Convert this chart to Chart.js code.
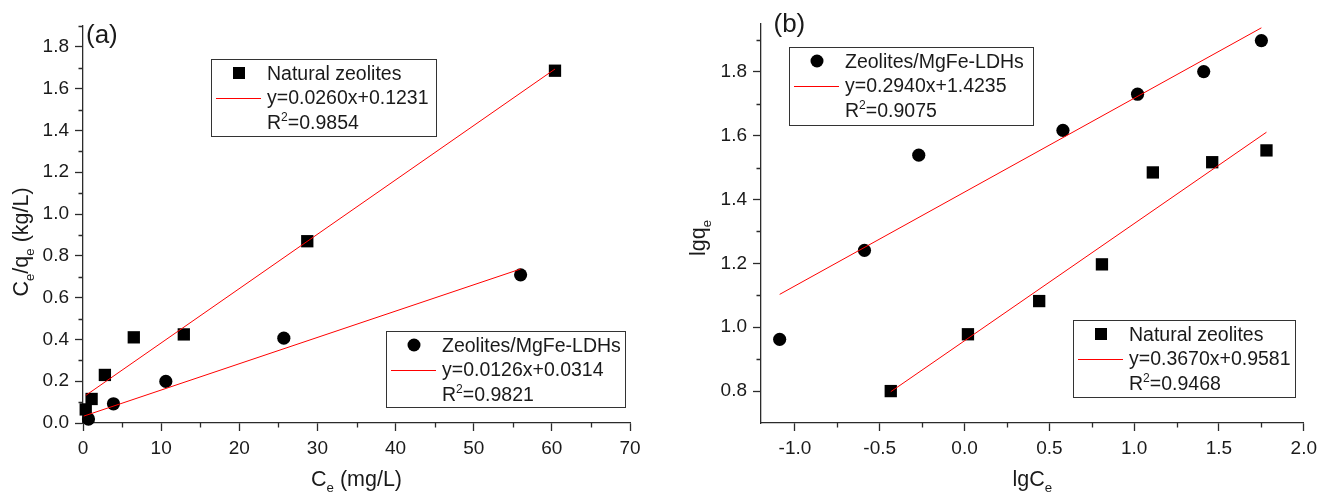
<!DOCTYPE html>
<html>
<head>
<meta charset="utf-8">
<script src="https://cdn.jsdelivr.net/npm/chart.js@4.4.1/dist/chart.umd.min.js"></script>
<style>
  html, body { margin: 0; padding: 0; background: #fff; }
  .panel { position: absolute; top: 0; height: 494px; }
  #wrapA { left: 0; width: 661px; }
  #wrapB { left: 661px; width: 662px; }
</style>
</head>
<body>
<div class="panel" id="wrapA"><canvas id="chartA"></canvas></div>
<div class="panel" id="wrapB"><canvas id="chartB"></canvas></div>
<script>
/* (a) Langmuir-type plot: Ce/qe vs Ce */
const A_X_TICKS = [0, 10, 20, 30, 40, 50, 60, 70];
const A_X_MINOR = [5, 15, 25, 35, 45, 55, 65];
const A_Y_TICKS = [0, 0.2, 0.4, 0.6, 0.8, 1.0, 1.2, 1.4, 1.6, 1.8];
const A_Y_MINOR = [0.1, 0.3, 0.5, 0.7, 0.9, 1.1, 1.3, 1.5, 1.7, 1.9];

const A_NAT_X = [0.35, 1.1, 2.8, 6.5, 12.9, 28.7, 60.4];
const A_NAT_Y = [0.065, 0.115, 0.23, 0.41, 0.424, 0.87, 1.686];
const A_LDH_X = [0.7, 3.9, 10.6, 25.7, 56.0];
const A_LDH_Y = [0.019, 0.092, 0.199, 0.406, 0.709];
const A_NAT_FIT_X = [0.35, 60.4];
const A_NAT_FIT_Y = [0.132, 1.694];
const A_LDH_FIT_X = [0.1, 56.0];
const A_LDH_FIT_Y = [0.033, 0.737];

/* (b) Freundlich-type plot: lgqe vs lgCe */
const B_X_TICKS = [-1.0, -0.5, 0.0, 0.5, 1.0, 1.5, 2.0];
const B_X_MINOR = [-0.75, -0.25, 0.25, 0.75, 1.25, 1.75];
const B_Y_TICKS = [0.8, 1.0, 1.2, 1.4, 1.6, 1.8];
const B_Y_MINOR = [0.9, 1.1, 1.3, 1.5, 1.7, 1.9];

const B_LDH_X = [-1.09, -0.59, -0.27, 0.58, 1.02, 1.41, 1.75];
const B_LDH_Y = [0.962, 1.241, 1.539, 1.617, 1.73, 1.801, 1.898];
const B_NAT_X = [-0.435, 0.02, 0.44, 0.81, 1.11, 1.46, 1.78];
const B_NAT_Y = [0.80, 0.978, 1.082, 1.197, 1.485, 1.517, 1.554];
const B_LDH_FIT_X = [-1.09, 1.75];
const B_LDH_FIT_Y = [1.103, 1.938];
const B_NAT_FIT_X = [-0.435, 1.78];
const B_NAT_FIT_Y = [0.798, 1.611];

const NAME_NAT = 'Natural zeolites';
const NAME_LDH = 'Zeolites/MgFe-LDHs';
const EQ_A_NAT = 'y=0.0260x+0.1231', R2_A_NAT = '=0.9854';
const EQ_A_LDH = 'y=0.0126x+0.0314', R2_A_LDH = '=0.9821';
const EQ_B_LDH = 'y=0.2940x+1.4235', R2_B_LDH = '=0.9075';
const EQ_B_NAT = 'y=0.3670x+0.9581', R2_B_NAT = '=0.9468';

const FONT = '"Liberation Sans", Arial, Helvetica, sans-serif';
const INK = '#000000';
const AXIS = '#2b2b2b';
const TEXT = '#1a1a1a';
const RED = '#ff0000';

function pts(xs, ys) {
  return xs.map((x, i) => ({ x, y: ys[i] }));
}

function markerSet(xs, ys, style) {
  return {
    data: pts(xs, ys),
    pointStyle: style,
    pointRadius: style === 'rect' ? 8.7 : 6.6,
    pointHoverRadius: style === 'rect' ? 8.7 : 6.6,
    backgroundColor: INK,
    borderColor: INK,
    borderWidth: 0,
    clip: false,
    order: 1,
  };
}

function fitSet(xs, ys) {
  return {
    data: pts(xs, ys),
    showLine: true,
    borderColor: RED,
    borderWidth: 1,
    pointRadius: 0,
    pointHoverRadius: 0,
    tension: 0,
    fill: false,
    clip: false,
    order: 0,
  };
}

function axis(min, max, ticks, digits, fit) {
  return {
    type: 'linear',
    min, max,
    afterBuildTicks: s => { s.ticks = ticks.map(v => ({ value: v })); },
    afterFit: fit,
    grid: { drawOnChartArea: false, drawTicks: true, tickLength: 8, tickWidth: 1.3, tickColor: AXIS },
    border: { display: true, color: AXIS, width: 1.3 },
    ticks: {
      color: TEXT,
      font: { family: FONT, size: 19 },
      padding: 6,
      maxRotation: 0,
      autoSkip: false,
      callback: v => Number(v).toFixed(digits),
    },
  };
}

function fontFor(p, size) {
  const s = (p.sub || p.sup) ? size * 0.62 : size;
  return s.toFixed(1) + 'px ' + FONT;
}

function richWidth(ctx, parts, size) {
  let w = 0;
  for (const p of parts) { ctx.font = fontFor(p, size); w += ctx.measureText(p.t).width; }
  return w;
}

function drawRich(ctx, parts, x, y, size, center) {
  let cx = center ? x - richWidth(ctx, parts, size) / 2 : x;
  ctx.textAlign = 'left';
  ctx.textBaseline = 'alphabetic';
  for (const p of parts) {
    ctx.font = fontFor(p, size);
    const dy = p.sub ? size * 0.3 : p.sup ? -size * 0.4 : 0;
    ctx.fillText(p.t, cx, y + dy);
    cx += ctx.measureText(p.t).width;
  }
}

function drawMarker(ctx, style, x, y) {
  ctx.fillStyle = INK;
  ctx.beginPath();
  if (style === 'rect') ctx.rect(x - 6, y - 6, 12, 12);
  else ctx.arc(x, y, 6.5, 0, Math.PI * 2);
  ctx.fill();
}

// minor ticks, axis titles, panel letter and the boxed legends
const decor = {
  id: 'decor',
  afterDraw(chart, args, o) {
    const ctx = chart.ctx;
    const a = chart.chartArea;
    const xs = chart.scales.x, ys = chart.scales.y;
    ctx.save();
    ctx.strokeStyle = AXIS;
    ctx.lineWidth = 1.3;
    ctx.beginPath();
    for (const v of o.minorX) {
      const px = Math.round(xs.getPixelForValue(v)) + 0.5;
      ctx.moveTo(px, a.bottom); ctx.lineTo(px, a.bottom + 4.5);
    }
    for (const v of o.minorY) {
      const py = Math.round(ys.getPixelForValue(v)) + 0.5;
      ctx.moveTo(a.left - 4.5, py); ctx.lineTo(a.left, py);
    }
    ctx.stroke();

    ctx.fillStyle = TEXT;
    drawRich(ctx, o.xTitle, (a.left + a.right) / 2, o.xTitleY, 21.5, true);
    ctx.save();
    ctx.translate(o.yTitleX, o.yTitleCY);
    ctx.rotate(-Math.PI / 2);
    drawRich(ctx, o.yTitle, 0, 0, 21.5, true);
    ctx.restore();

    ctx.font = '26px ' + FONT;
    ctx.textAlign = 'left';
    ctx.fillText(o.panel[0], o.panel[1], o.panel[2]);

    for (const lg of o.legends) {
      const [x1, y1, x2, y2] = lg.box;
      ctx.strokeStyle = '#333';
      ctx.lineWidth = 1;
      ctx.strokeRect(x1 + 0.5, y1 + 0.5, x2 - x1, y2 - y1);
      const b1 = y1 + 20.5, b2 = y1 + 45, b3 = y1 + 69.5;
      drawMarker(ctx, lg.marker, x1 + 28, b1 - 6.5);
      ctx.strokeStyle = RED;
      ctx.beginPath();
      ctx.moveTo(x1 + 5, Math.round(b2 - 6.5) + 0.5);
      ctx.lineTo(x1 + 50, Math.round(b2 - 6.5) + 0.5);
      ctx.stroke();
      ctx.fillStyle = TEXT;
      drawRich(ctx, [{ t: lg.name }], x1 + 56, b1, 19.5, false);
      drawRich(ctx, [{ t: lg.eq }], x1 + 56, b2, 19.5, false);
      drawRich(ctx, [{ t: 'R' }, { t: '2', sup: 1 }, { t: lg.r2 }], x1 + 56, b3, 19.5, false);
    }
    ctx.restore();
  },
};

function mountPanel(canvasId, cfg) {
  return new Chart(document.getElementById(canvasId), {
    type: 'scatter',
    data: { datasets: cfg.datasets },
    options: {
      responsive: true,
      maintainAspectRatio: false,
      animation: false,
      events: [],
      layout: { padding: cfg.padding },
      scales: cfg.scales,
      plugins: {
        legend: { display: false },
        tooltip: { enabled: false },
        decor: cfg.decor,
      },
    },
    plugins: [decor],
  });
}

mountPanel('chartA', {
  datasets: [
    fitSet(A_NAT_FIT_X, A_NAT_FIT_Y),
    fitSet(A_LDH_FIT_X, A_LDH_FIT_Y),
    markerSet(A_NAT_X, A_NAT_Y, 'rect'),
    markerSet(A_LDH_X, A_LDH_Y, 'circle'),
  ],
  padding: { top: 26, right: 31, bottom: 0, left: 0 },
  scales: {
    x: axis(0, 70, A_X_TICKS, 0, s => { s.height = 71; }),
    y: axis(0, 1.9, A_Y_TICKS, 1, s => { s.width = 83; }),
  },
  decor: {
    minorX: A_X_MINOR,
    minorY: A_Y_MINOR,
    xTitle: [{ t: 'C' }, { t: 'e', sub: 1 }, { t: ' (mg/L)' }],
    xTitleY: 486,
    yTitle: [{ t: 'C' }, { t: 'e', sub: 1 }, { t: '/q' }, { t: 'e', sub: 1 }, { t: ' (kg/L)' }],
    yTitleX: 28,
    yTitleCY: 242,
    panel: ['(a)', 86, 43],
    legends: [
      { box: [211, 59, 436, 136], marker: 'rect', name: NAME_NAT, eq: EQ_A_NAT, r2: R2_A_NAT },
      { box: [386, 331, 625, 407], marker: 'circle', name: NAME_LDH, eq: EQ_A_LDH, r2: R2_A_LDH },
    ],
  },
});

mountPanel('chartB', {
  datasets: [
    fitSet(B_LDH_FIT_X, B_LDH_FIT_Y),
    fitSet(B_NAT_FIT_X, B_NAT_FIT_Y),
    markerSet(B_LDH_X, B_LDH_Y, 'circle'),
    markerSet(B_NAT_X, B_NAT_Y, 'rect'),
  ],
  padding: { top: 24, right: 13, bottom: 0, left: 0 },
  scales: {
    x: axis(-1.2, 2.0, B_X_TICKS, 1, s => { s.height = 71; }),
    y: axis(0.7, 1.95, B_Y_TICKS, 1, s => { s.width = 100; }),
  },
  decor: {
    minorX: B_X_MINOR,
    minorY: B_Y_MINOR,
    xTitle: [{ t: 'lgC' }, { t: 'e', sub: 1 }],
    xTitleY: 486,
    yTitle: [{ t: 'lgq' }, { t: 'e', sub: 1 }],
    yTitleX: 44,
    yTitleCY: 238,
    panel: ['(b)', 112.5, 31.5],
    legends: [
      { box: [128, 47, 372, 125], marker: 'circle', name: NAME_LDH, eq: EQ_B_LDH, r2: R2_B_LDH },
      { box: [412, 320, 634, 397], marker: 'rect', name: NAME_NAT, eq: EQ_B_NAT, r2: R2_B_NAT },
    ],
  },
});
</script>
</body>
</html>
